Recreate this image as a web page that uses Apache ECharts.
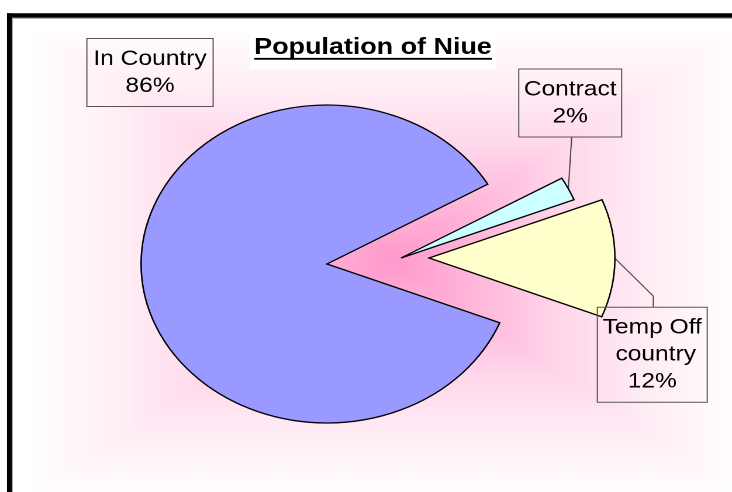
<!DOCTYPE html>
<html>
<head>
<meta charset="utf-8">
<script src="https://cdn.jsdelivr.net/npm/echarts@6/dist/echarts.min.js"></script>
<style>
  html, body { margin: 0; padding: 0; background: #fff; overflow: hidden; }
  /* the original chart is stretched sideways, so draw it narrow and widen it */
  #chart { width: 626px; height: 492px; transform: scaleX(1.1693); transform-origin: 0 0; }
</style>
</head>
<body>
<div id="chart"></div>
<script>
// data
var categories = ['In Country', 'Contract', 'Temp Off country'];
var values = [85.6, 2.4, 12.0];

// layout, all in picture px (x gets divided by the stretch)
var SX = 732 / 626;
function ux(x) { return x / SX; }
var FONT = '"Liberation Sans", Arial, sans-serif';
var COLORS = ['#9999ff', '#ccffff', '#ffffcc'];
var RADIUS = 159;
var START = 338.3;
var CENTERS = [[327, 264], [401, 258], [429, 258]];      // exploded slices
var LABEL_AT = [[150, 72.5], [570.2, 103], [652.3, 354.7]];
var LABEL_BOX = [[100, 4], [82, 3], [88, 3]];              // text width, side padding
var TITLE = 'Population of Niue';

var myChart = echarts.init(document.getElementById('chart'), null, { devicePixelRatio: 2 });

// title width, for the white box and the underline
var ctx = document.createElement('canvas').getContext('2d');
ctx.font = 'bold 23px ' + FONT;
var tw = ctx.measureText(TITLE).width;
var boxL = ux(250), boxW = ux(496) - ux(250);
var padH = Math.max(0, (boxW - tw) / 2);

// pink "from centre" fill of the plot area
var L = ux(30), R = ux(740), T = 28, B = 495, CX = ux(392), CY = 260;
var stops = [
  { offset: 0, color: '#ffffff' },
  { offset: 0.25, color: '#ffeef6' },
  { offset: 0.5, color: '#ffd8eb' },
  { offset: 0.75, color: '#ffb8da' },
  { offset: 1, color: '#ff99cc' }
];
function tri(points, x, y, x2, y2) {
  var g = new echarts.graphic.LinearGradient(x, y, x2, y2, stops);
  return { type: 'polygon', z: 0, silent: true, shape: { points: points },
    style: { fill: g, stroke: g, lineWidth: 1 } };
}
function edge(x1, y1, x2, y2, color, w) {
  return { type: 'line', z: 10, silent: true,
    shape: { x1: x1, y1: y1, x2: x2, y2: y2 },
    style: { stroke: color, lineWidth: w } };
}

function labelLayout(params) {
  var i = params.dataIndex;
  var res = { x: ux(LABEL_AT[i][0]), y: LABEL_AT[i][1], align: 'center', verticalAlign: 'middle' };
  var p = params.labelLinePoints;
  if (p && p[0]) {
    if (i === 1) {
      var ex = ux(571.7);
      res.labelLinePoints = [p[0], [(p[0][0] + ex) / 2, (p[0][1] + 137) / 2], [ex, 137]];
    }
    if (i === 2) {
      res.labelLinePoints = [p[0], [ux(653.3), 296], [ux(653.3), 307]];
    }
  }
  return res;
}

var series = categories.map(function (_, k) {
  return {
    type: 'pie',
    silent: true,
    animation: false,
    radius: RADIUS,
    center: [ux(CENTERS[k][0]), CENTERS[k][1]],
    startAngle: START,
    clockwise: true,
    avoidLabelOverlap: false,
    percentPrecision: 0,
    emphasis: { disabled: true },
    itemStyle: { borderColor: '#000', borderWidth: 1.3, borderJoin: 'miter' },
    label: {
      position: 'outside',
      alignTo: 'none',
      formatter: '{b}\n{d}%',
      color: '#000',
      fontFamily: FONT,
      fontSize: 21,
      lineHeight: 27,
      align: 'center',
      overflow: 'break',
      borderColor: '#555',
      borderWidth: 1
    },
    labelLine: { show: true, smooth: false, length: 8, length2: 8, lineStyle: { color: '#444', width: 1 } },
    labelLayout: labelLayout,
    data: categories.map(function (name, i) {
      return {
        name: name,
        value: values[i],
        itemStyle: i === k ? { color: COLORS[i] } : { color: 'rgba(0,0,0,0)', borderWidth: 0 },
        label: { show: i === k, width: LABEL_BOX[i][0], padding: [6, LABEL_BOX[i][1], 8, LABEL_BOX[i][1]] },
        labelLine: { show: i === k && i > 0 }
      };
    })
  };
});

var option = {
  backgroundColor: '#fff',
  title: {
    text: TITLE,
    left: boxL,
    top: 34,
    padding: [2, padH, 10, padH],
    backgroundColor: '#fff',
    textStyle: { fontFamily: FONT, fontSize: 23, fontWeight: 'bold', color: '#000', lineHeight: 23 }
  },
  graphic: [
    tri([[L, T], [R, T], [CX, CY]], 0, 0, 0, 1),
    tri([[L, B], [R, B], [CX, CY]], 0, 1, 0, 0),
    tri([[L, T], [L, B], [CX, CY]], 0, 0, 1, 0),
    tri([[R, T], [R, B], [CX, CY]], 1, 0, 0, 0),
    // title underline
    { type: 'line', z: 10, silent: true,
      shape: { x1: boxL + padH, y1: 58.8, x2: boxL + padH + tw, y2: 58.8 },
      style: { stroke: '#000', lineWidth: 1.8 } },
    // frame, only top and left are inside the picture
    edge(ux(7), 15.5, 640, 15.5, '#000', 4.5),
    edge(ux(9.5), 13.3, ux(9.5), 500, '#000', 4.3),
    edge(ux(12.3), 18.3, 640, 18.3, '#999', 0.8),
    edge(ux(12.3), 18.3, ux(12.3), 500, '#999', 0.8)
  ],
  series: series
};

myChart.setOption(option);
</script>
</body>
</html>
